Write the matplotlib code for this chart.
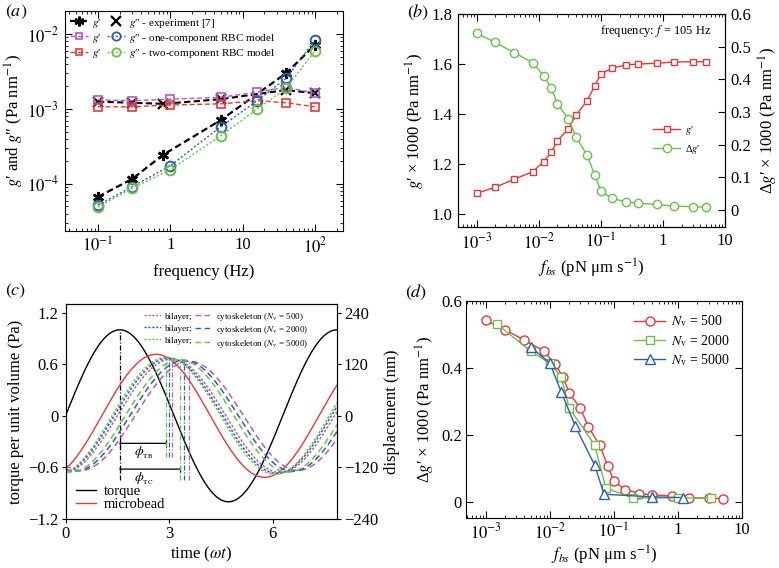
import numpy as np
import matplotlib
matplotlib.use('Agg')
import matplotlib.pyplot as plt
from matplotlib.lines import Line2D
from matplotlib.ticker import LogLocator, NullFormatter

plt.rcParams['font.family'] = ['Liberation Serif', 'DejaVu Serif']
plt.rcParams['mathtext.fontset'] = 'stix'
plt.rcParams['font.size'] = 12
plt.rcParams['axes.unicode_minus'] = True

RED = '#e5383b'
PURPLE = '#b15bc4'
BLUE = '#2e5fae'
GREEN = '#6cbf4a'
P1 = '\u2032'
P2 = '\u2033'

# ---------------- panel (a) data ----------------
freq_exp = [0.1, 0.3, 0.8, 5, 40, 100]
exp_star = [6.7e-5, 1.17e-4, 2.45e-4, 7.1e-4, 3.0e-3, 7.1e-3]
exp_cross = [1.25e-3, 1.21e-3, 1.17e-3, 1.35e-3, 1.79e-3, 1.62e-3]
freq_model = [0.1, 0.3, 1, 5, 16, 40, 100]
gp_one = [1.32e-3, 1.29e-3, 1.35e-3, 1.43e-3, 1.68e-3, 1.95e-3, 1.62e-3]
gpp_one = [5.2e-5, 9.2e-5, 1.74e-4, 5.8e-4, 1.29e-3, 2.56e-3, 8.3e-3]
gp_two = [1.07e-3, 1.07e-3, 1.13e-3, 1.17e-3, 1.29e-3, 1.21e-3, 1.07e-3]
gpp_two = [4.9e-5, 8.8e-5, 1.54e-4, 4.4e-4, 1.0e-3, 1.89e-3, 5.9e-3]
a_xticks = [0.1, 1, 10, 100]
a_xticklabels = ['$10^{-1}$', '1', '10', '$10^{2}$']
a_yticks = [1e-4, 1e-3, 1e-2]
a_yticklabels = ['$10^{-4}$', '$10^{-3}$', '$10^{-2}$']

# ---------------- panel (b) data ----------------
fbs = [0.001, 0.002, 0.004, 0.008, 0.012, 0.016, 0.02, 0.03, 0.04, 0.06,
       0.08, 0.1, 0.15, 0.25, 0.4, 0.8, 1.5, 3, 5]
gprime = [1.083, 1.107, 1.139, 1.169, 1.209, 1.248, 1.293, 1.341, 1.396, 1.453,
          1.513, 1.560, 1.583, 1.596, 1.600, 1.603, 1.608, 1.609, 1.609]
dgprime = [0.541, 0.513, 0.482, 0.451, 0.411, 0.372, 0.325, 0.279, 0.224, 0.168,
           0.107, 0.059, 0.036, 0.025, 0.021, 0.017, 0.012, 0.010, 0.009]
fbs_xticks = [1e-3, 1e-2, 1e-1, 1, 10]
fbs_xticklabels = ['$10^{-3}$', '$10^{-2}$', '$10^{-1}$', '1', '10']
b_left_ticks = [1.0, 1.2, 1.4, 1.6, 1.8]
b_left_labels = ['1.0', '1.2', '1.4', '1.6', '1.8']
b_right_ticks = [0, 0.1, 0.2, 0.3, 0.4, 0.5, 0.6]
b_right_labels = ['0', '0.1', '0.2', '0.3', '0.4', '0.5', '0.6']

# ---------------- panel (c) data ----------------
torque_amp = 1.0
bead_amp = 143.0
bead_peak = 2.62
nv_values = [500, 2000, 5000]
nv_colors = [PURPLE, BLUE, GREEN]
bil_peak = [3.07, 2.98, 2.92]
bil_amp = [132.0, 134.0, 136.0]
cyt_peak = [3.58, 3.43, 3.30]
cyt_amp = [127.0, 129.0, 131.0]
c_left_ticks = [-1.2, -0.6, 0, 0.6, 1.2]
c_left_labels = ['\u22121.2', '\u22120.6', '0', '0.6', '1.2']
c_right_ticks = [-240, -120, 0, 120, 240]
c_right_labels = ['\u2212240', '\u2212120', '0', '120', '240']
c_xticks = [0, 3, 6]

# ---------------- panel (d) data ----------------
fbs_500 = fbs
dg_500 = [0.542, 0.514, 0.483, 0.451, 0.413, 0.373, 0.326, 0.279, 0.224, 0.169,
          0.108, 0.061, 0.037, 0.025, 0.021, 0.018, 0.013, 0.011, 0.010]
fbs_2000 = [0.0015, 0.005, 0.01, 0.015, 0.02, 0.05, 0.075, 0.2, 1.0, 3.3]
dg_2000 = [0.531, 0.450, 0.414, 0.374, 0.281, 0.170, 0.041, 0.012, 0.012, 0.011]
fbs_5000 = [0.005, 0.01, 0.015, 0.025, 0.05, 0.07, 0.4, 1.2]
dg_5000 = [0.463, 0.414, 0.329, 0.226, 0.110, 0.023, 0.015, 0.013]
d_yticks = [0, 0.2, 0.4, 0.6]
d_ylabels = ['0', '0.2', '0.4', '0.6']

# ---------------- figure ----------------
W, H = 779, 568
fig = plt.figure(figsize=(W / 100, H / 100), dpi=100)


def box(l, t, r, b):
    return [l / W, 1 - b / H, (r - l) / W, (b - t) / H]


axa = fig.add_axes(box(65, 11, 343, 231))
axb = fig.add_axes(box(458, 14, 725, 227))
axc = fig.add_axes(box(65.5, 304, 337, 519))
axd = fig.add_axes(box(466, 301, 742, 518))


def log_minor(ax, axis='x'):
    loc = LogLocator(base=10, subs=np.arange(2, 10), numticks=50)
    if axis == 'x':
        ax.xaxis.set_minor_locator(loc)
        ax.xaxis.set_minor_formatter(NullFormatter())
    else:
        ax.yaxis.set_minor_locator(loc)
        ax.yaxis.set_minor_formatter(NullFormatter())


# ================= panel (a) =================
ast = (6, 2, 0)
axa.plot(freq_exp, exp_cross, color='k', ls=(0, (3, 1.6)), lw=1.5,
         marker='x', ms=7, mew=1.6)
axa.plot(freq_exp, exp_star, color='k', ls=(0, (3, 1.6)), lw=1.6,
         marker=ast, ms=8, mew=1.8)
axa.plot(freq_model, gp_one, color=PURPLE, ls=(0, (3.5, 2)), lw=1,
         marker='s', ms=6, mfc='none', mew=1.2)
axa.plot(freq_model, gp_two, color=RED, ls=(0, (3.5, 2)), lw=1,
         marker='s', ms=6, mfc='none', mew=1.2)
axa.plot(freq_model, gpp_one, color=BLUE, ls=(0, (1.5, 1.5)), lw=1,
         marker='o', ms=7, mfc='none', mew=1.4)
axa.plot(freq_model, gpp_two, color=GREEN, ls=(0, (1.5, 1.5)), lw=1,
         marker='o', ms=7, mfc='none', mew=1.4)
axa.set_xscale('log')
axa.set_yscale('log')
axa.set_xlim(0.035, 245)
axa.set_ylim(2.35e-5, 2.03e-2)
axa.set_xticks(a_xticks)
axa.set_xticklabels(a_xticklabels)
axa.set_yticks(a_yticks)
axa.set_yticklabels(a_yticklabels)
log_minor(axa, 'x')
log_minor(axa, 'y')
axa.tick_params(which='both', direction='in', top=True, right=True, pad=4)
axa.tick_params(which='major', length=5)
axa.tick_params(which='minor', length=2.5)
axa.set_xlabel('frequency (Hz)', labelpad=5)
axa.set_ylabel('$g$' + P1 + ' and $g$' + P2 + ' (Pa nm$^{-1}$)', labelpad=1)

hA = [Line2D([], [], color='k', ls=(0, (3, 1.6)), lw=1.6, marker=ast, ms=7, mew=1.7),
      Line2D([], [], color=PURPLE, ls=(0, (3.5, 2)), lw=1, marker='s', ms=5, mfc='none', mew=1.2),
      Line2D([], [], color=RED, ls=(0, (3.5, 2)), lw=1, marker='s', ms=5, mfc='none', mew=1.2),
      Line2D([], [], color='k', ls='none', marker='x', ms=7, mew=1.6),
      Line2D([], [], color=BLUE, ls=(0, (1.5, 1.5)), lw=1, marker='o', ms=6, mfc='none', mew=1.3),
      Line2D([], [], color=GREEN, ls=(0, (1.5, 1.5)), lw=1, marker='o', ms=6, mfc='none', mew=1.3)]
lA = ['$g$' + P1, '$g$' + P1, '$g$' + P1,
      '$g$' + P2 + ' - experiment [7]', '$g$' + P2 + ' - one-component RBC model',
      '$g$' + P2 + ' - two-component RBC model']
axa.legend(hA, lA, ncol=2, loc='upper left', bbox_to_anchor=(-0.01, 1.01),
           frameon=False, fontsize=8, handlelength=1.6, handletextpad=0.4,
           columnspacing=0.5, labelspacing=0.15, borderaxespad=0.3,
           handleheight=1.2)

# ================= panel (b) =================
axb.plot(fbs, gprime, color=RED, lw=1, marker='s', ms=5, mfc='white', mew=1)
axb2 = axb.twinx()
axb2.plot(fbs, dgprime, color=GREEN, lw=1, marker='o', ms=6, mfc='white', mew=1)
axb.set_xscale('log')
axb.set_xlim(10 ** -3.3, 10)
axb.set_ylim(0.948, 1.8)
axb2.set_ylim(-0.052, 0.6)
axb.set_xticks(fbs_xticks)
axb.set_xticklabels(fbs_xticklabels)
log_minor(axb, 'x')
axb.set_yticks(b_left_ticks)
axb.set_yticklabels(b_left_labels)
axb2.set_yticks(b_right_ticks)
axb2.set_yticklabels(b_right_labels)
axb.tick_params(which='both', direction='in', top=True, pad=4)
axb.tick_params(which='major', length=5)
axb.tick_params(which='minor', length=2.5)
axb2.tick_params(which='both', direction='in', length=5, pad=4)
axb.set_xlabel('$f_{bs}$ (pN \u03bcm s$^{-1}$)', labelpad=3)
axb.set_ylabel('$g$' + P1 + ' \u00d7 1000 (Pa nm$^{-1}$)', labelpad=3)
axb2.set_ylabel('\u0394$g$' + P1 + ' \u00d7 1000 (Pa nm$^{-1}$)', labelpad=4)
axb.text(0.95, 0.92, 'frequency: $f$ = 105 Hz', transform=axb.transAxes,
         ha='right', va='center', fontsize=9)
hB = [Line2D([], [], color=RED, lw=1, marker='s', ms=5, mfc='white', mew=1),
      Line2D([], [], color=GREEN, lw=1, marker='o', ms=6, mfc='white', mew=1)]
axb2.legend(hB, ['$g$' + P1, '\u0394$g$' + P1], loc='center', bbox_to_anchor=(0.82, 0.41),
            frameon=False, fontsize=7.5, handlelength=2.6, handletextpad=0.5,
            labelspacing=0.6)

# ================= panel (c) =================
t = np.linspace(0, 2.5 * np.pi, 600)
axc2 = axc.twinx()
axc.plot(t, torque_amp * np.sin(t), color='k', lw=1)
axc2.plot(t, bead_amp * np.cos(t - bead_peak), color=RED, lw=1)
for col, bp, ba, cp, ca in zip(nv_colors, bil_peak, bil_amp, cyt_peak, cyt_amp):
    axc2.plot(t, ba * np.cos(t - bp), color=col, lw=1.1, dashes=(1.6, 1.2))
    axc2.plot(t, ca * np.cos(t - cp), color=col, lw=1.1, dashes=(4, 2.5))
    axc2.vlines(bp, -96, ba, colors=col, lw=0.9, linestyles=(0, (4, 1.5, 1, 1.5)))
    axc2.vlines(cp, -150, ca, colors=col, lw=0.9, linestyles=(0, (4, 1.5, 1, 1.5)))
axc.vlines(np.pi / 2, -0.75, torque_amp, colors='k', lw=0.9,
           linestyles=(0, (4, 1.5, 1, 1.5)))
axc.annotate('', xy=(bil_peak[2], -0.32), xytext=(np.pi / 2, -0.32),
             arrowprops=dict(arrowstyle='|-|,widthA=0.2,widthB=0.2', lw=0.9,
                             shrinkA=0, shrinkB=0, color='k'))
axc.annotate('', xy=(cyt_peak[2], -0.62), xytext=(np.pi / 2, -0.62),
             arrowprops=dict(arrowstyle='|-|,widthA=0.2,widthB=0.2', lw=0.9,
                             shrinkA=0, shrinkB=0, color='k'))
axc.text(2.27, -0.43, '$\\phi_{_{\\rm TB}}$', ha='center', va='center', fontsize=10)
axc.text(2.27, -0.74, '$\\phi_{_{\\rm TC}}$', ha='center', va='center', fontsize=10)
axc.set_xlim(0, 2.5 * np.pi)
axc.set_ylim(-1.2, 1.3)
axc2.set_ylim(-240, 260)
axc.set_xticks(c_xticks)
axc.set_yticks(c_left_ticks)
axc.set_yticklabels(c_left_labels)
axc2.set_yticks(c_right_ticks)
axc2.set_yticklabels(c_right_labels)
axc.tick_params(direction='out', length=3, pad=2)
axc2.tick_params(direction='out', length=3, pad=2)
axc.set_xlabel('time ($\\omega t$)', labelpad=2)
axc.set_ylabel('torque per unit volume (Pa)', labelpad=3)
axc2.set_ylabel('displacement (nm)', labelpad=4)

hC = []
lC = []
for col in nv_colors:
    hC.append(Line2D([], [], color=col, lw=1, dashes=(1.6, 1.2)))
    lC.append('bilayer;')
for col, nv in zip(nv_colors, nv_values):
    hC.append(Line2D([], [], color=col, lw=1, dashes=(4, 2.5)))
    lC.append('cytoskeleton ($N_{\\rm v}$ = %d)' % nv)
legc = axc2.legend(hC, lC, ncol=2, loc='upper left', bbox_to_anchor=(0.265, 1.0),
                   frameon=False, fontsize=6.5, handlelength=1.9, handletextpad=0.4,
                   columnspacing=0.3, labelspacing=0.1, handleheight=1.55,
                   borderaxespad=0.3)
axc2.add_artist(legc)
hC2 = [Line2D([], [], color='k', lw=1), Line2D([], [], color=RED, lw=1)]
axc2.legend(hC2, ['torque', 'microbead'], loc='lower left', bbox_to_anchor=(0.0, -0.01),
            frameon=False, fontsize=10.5, handlelength=1.4, handletextpad=0.5,
            labelspacing=0.0, borderaxespad=0.3)

# ================= panel (d) =================
axd.plot(fbs_500, dg_500, color=RED, lw=1, marker='o', ms=6.5, mfc='white', mew=1,
         label='$N_{\\rm v}$ = 500')
axd.plot(fbs_2000, dg_2000, color=GREEN, lw=1, marker='s', ms=6, mfc='white', mew=1,
         label='$N_{\\rm v}$ = 2000')
axd.plot(fbs_5000, dg_5000, color=BLUE, lw=1, marker='^', ms=7, mfc='white', mew=1,
         label='$N_{\\rm v}$ = 5000')
axd.set_xscale('log')
axd.set_xlim(10 ** -3.31, 10)
axd.set_ylim(-0.048, 0.6)
axd.set_xticks(fbs_xticks)
axd.set_xticklabels(fbs_xticklabels)
log_minor(axd, 'x')
axd.set_yticks(d_yticks)
axd.set_yticklabels(d_ylabels)
axd.tick_params(which='both', direction='in', top=True, right=True, pad=3)
axd.tick_params(which='major', length=5)
axd.tick_params(which='minor', length=2.5)
axd.set_xlabel('$f_{bs}$ (pN \u03bcm s$^{-1}$)', labelpad=1)
axd.set_ylabel('\u0394$g$' + P1 + ' \u00d7 1000 (Pa nm$^{-1}$)', labelpad=3)
axd.legend(loc='upper right', frameon=False, fontsize=10, handlelength=2.2,
           handletextpad=0.4, labelspacing=0.25, borderaxespad=0.5)

# panel labels
for txt, x, y in [('a', 16, 12), ('b', 418, 12), ('c', 16, 291), ('d', 416, 292)]:
    fig.text(x / W, 1 - y / H, '$(%s)$' % txt, ha='center', va='center', fontsize=13)

fig.savefig('out.png', dpi=100)
